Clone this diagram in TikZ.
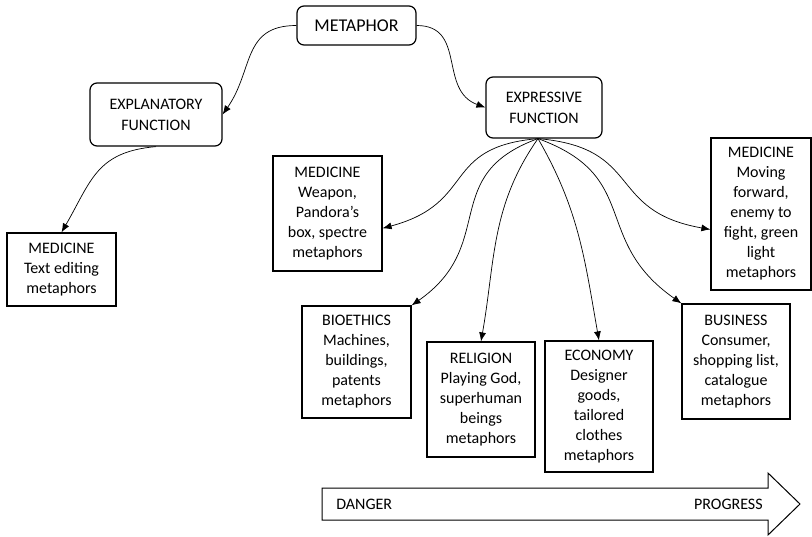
\documentclass[tikz,border=0pt]{standalone}
\usepackage{fontspec}
\setmainfont{Carlito}
\usetikzlibrary{arrows.meta}

\begin{document}
\begin{tikzpicture}[x=1pt,y=1pt,->,>={Latex[length=9pt,width=7pt]},
                    line width=0.7pt,
                    func node/.style={draw,rounded corners=7pt,line width=1.2pt,align=center,
                                      inner sep=0pt,font=\fontsize{16}{21}\selectfont},
                    field node/.style={draw,line width=1.2pt,align=center,inner sep=0pt,
                                       font=\fontsize{16}{20}\selectfont}]

  \useasboundingbox (0,0) rectangle (812,-536);

  % functions
  \node[func node,minimum width=119pt,minimum height=39pt,font=\fontsize{18}{22}\selectfont]
    (metaphor) at (356.5,-25.5) {METAPHOR};
  \node[func node,minimum width=132pt,minimum height=63pt] (explan) at (156,-114.5) {EXPLANATORY\\FUNCTION};
  \node[func node,minimum width=116pt,minimum height=61pt] (express) at (544,-107.5) {EXPRESSIVE\\FUNCTION};
  \coordinate (fan) at ([xshift=-6pt]express.south);

  % fields
  \node[field node,minimum width=109pt,minimum height=73pt] (medtext) at (61.5,-269.5)
    {MEDICINE\\Text editing\\metaphors};
  \node[field node,minimum width=109pt,minimum height=115pt] (medweapon) at (327.5,-213.5)
    {MEDICINE\\Weapon,\\Pandora’s\\box, spectre\\metaphors};
  \node[field node,minimum width=109pt,minimum height=112pt] (bioethics) at (356.5,-362)
    {BIOETHICS\\Machines,\\buildings,\\patents\\metaphors};
  \node[field node,minimum width=108pt,minimum height=115pt] (religion) at (481,-399.5)
    {RELIGION\\Playing God,\\superhuman\\beings\\metaphors};
  \node[field node,minimum width=108pt,minimum height=131pt] (economy) at (599,-406.5)
    {ECONOMY\\Designer\\goods,\\tailored\\clothes\\metaphors};
  \node[field node,minimum width=108pt,minimum height=115pt] (business) at (736,-361.5)
    {BUSINESS\\Consumer,\\shopping list,\\catalogue\\metaphors};
  \node[field node,minimum width=100pt,minimum height=152pt] (medmoving) at (761,-214)
    {MEDICINE\\Moving\\forward,\\enemy to\\fight, green\\light\\metaphors};

  \path
    (metaphor.west) edge [out=180,in=55,looseness=1.2] (explan.east)
    (metaphor.east) edge [out=0,in=160,looseness=1.2] (express.west)
    (explan.south)  edge [out=185,in=60,looseness=1.2] (medtext.north)
    (fan) edge [out=185,in=15,looseness=1.4] (medweapon.-15)
          edge [out=200,in=35,looseness=1.3] (bioethics.north east)
          edge [out=235,in=80] (religion.north)
          edge [out=-60,in=100] (economy.north)
          edge [out=-20,in=145,looseness=1.3] (business.north west)
          edge [out=-5,in=170,looseness=1.4] (medmoving.197);

  % scale
  \draw[-,line width=1pt] (322,-488) -- (768,-488) -- (768,-473) -- (800,-504)
    -- (768,-535) -- (768,-520) -- (322,-520) -- cycle;
  \node[anchor=west,inner sep=0pt,font=\fontsize{16}{20}\selectfont] (danger) at (336,-504) {DANGER};
  \node[anchor=east,inner sep=0pt,font=\fontsize{16}{20}\selectfont] (progress) at (763,-504) {PROGRESS};
\end{tikzpicture}
\end{document}
